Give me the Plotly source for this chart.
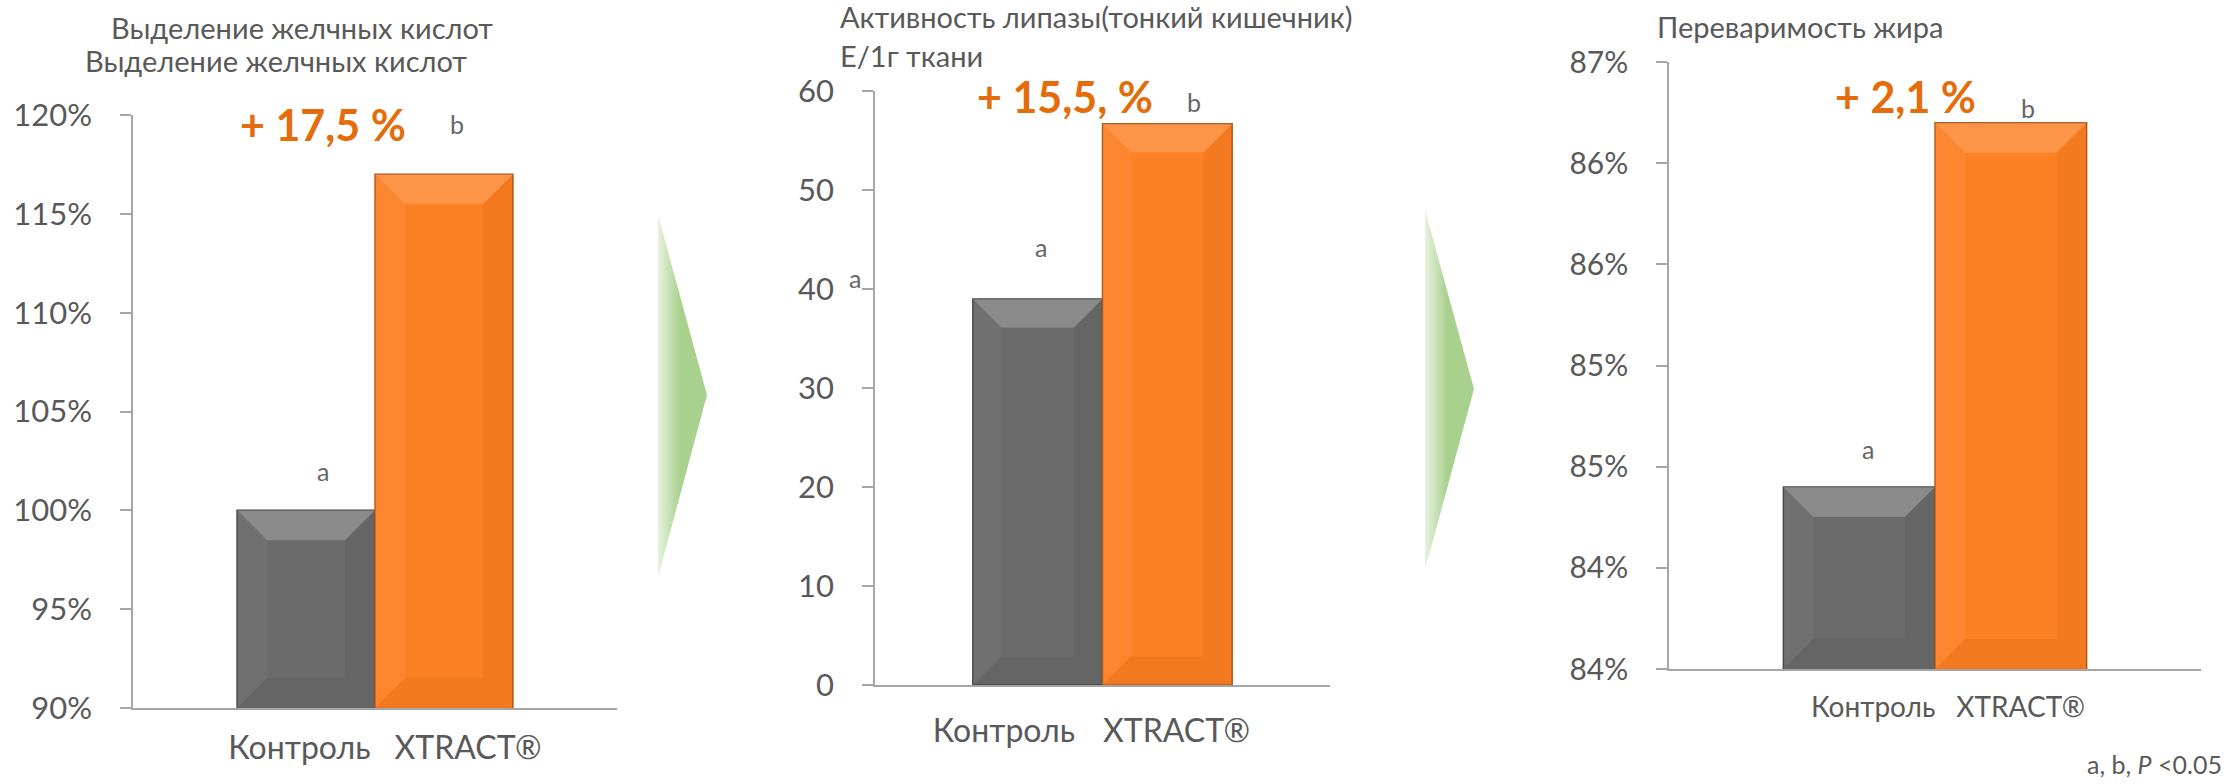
import plotly.graph_objects as go

# ---------------- data ----------------
categories = ["Контроль", "XTRACT®"]
bile_acids = [100, 117]          # % , Выделение желчных кислот
lipase = [39, 56.7]              # Е/1г ткани
fat_digest = [84.9, 86.7]        # %
diff_labels = ["+ 17,5 %", "+ 15,5, %", "+ 2,1 %"]
sig_letters = ["a", "b"]

bile_ticks = [90, 95, 100, 105, 110, 115, 120]
bile_ticktext = ["90%", "95%", "100%", "105%", "110%", "115%", "120%"]
lipase_ticks = [0, 10, 20, 30, 40, 50, 60]
fat_ticks = [84.0, 84.5, 85.0, 85.5, 86.0, 86.5, 87.0]
fat_ticktext = ["84%", "84%", "85%", "85%", "86%", "86%", "87%"]

titles1 = ["Выделение желчных кислот", "Выделение желчных кислот"]
titles2 = ["Активность липазы(тонкий кишечник)", "Е/1г ткани"]
titles3 = ["Переваримость жира"]
footnote = "a, b, <i>P</i> <0.05"

# ---------------- style ----------------
W, H = 2231, 784
FONT = "Lato, 'Noto Sans', sans-serif"
GREY_TXT = "#595959"
AXIS_COL = "#A6A6A6"
BAR_COLORS = ["#6B6B6B", "#FC8024"]
BAR_LINES = ["#474747", "#B4591B"]
ORANGE_TXT = "#E46C0A"
BARGAP = 0.43

def px(x):
    return x / W

def py(y):
    return 1 - y / H

fig = go.Figure()

panels = [
    dict(vals=bile_acids, xa="x", ya="y", sep="\u2003",
         xdom=[px(133), px(617)], ydom=[py(708), py(115)],
         yrange=[90, 120], tickvals=bile_ticks, ticktext=bile_ticktext,
         yfont=31, xfont=32, xstand=11, xshift=10),
    dict(vals=lipase, xa="x2", ya="y2", sep="\u2003\u2009",
         xdom=[px(875), px(1330)], ydom=[py(685), py(91)],
         yrange=[0, 60], tickvals=lipase_ticks, ticktext=[str(t) for t in lipase_ticks],
         yfont=31, xfont=32, xstand=17, xshift=-11),
    dict(vals=fat_digest, xa="x3", ya="y3", sep="\u2002\u2005",
         xdom=[px(1669), px(2201)], ydom=[py(669), py(62)],
         yrange=[84, 87], tickvals=fat_ticks, ticktext=fat_ticktext,
         yfont=30, xfont=28, xstand=13, xshift=13),
]

# decorative green chevron arrows (paper-fraction geometry on a hidden overlay axis)
arrows = [
    [(658, 215), (707, 395), (658, 577)],
    [(1425, 210), (1474, 389), (1425, 570)],
]
for arr in arrows:
    xs = [px(a[0]) for a in arr] + [px(arr[0][0])]
    ys = [py(a[1]) for a in arr] + [py(arr[0][1])]
    fig.add_trace(go.Scatter(
        x=xs, y=ys, mode="lines", fill="toself", line=dict(width=0, color="rgba(0,0,0,0)"),
        fillgradient=dict(type="horizontal",
                          colorscale=[[0, "#E6F2DE"], [0.45, "#A9D18E"], [1, "#A9D18E"]]),
        xaxis="x4", yaxis="y4", showlegend=False, hoverinfo="skip",
    ))

for p in panels:
    label = p["sep"].join(categories)
    p["label"] = label
    for j, cat in enumerate(categories):
        fig.add_trace(go.Bar(
            x=[label], y=[p["vals"][j]], name=cat, offsetgroup=str(j),
            marker=dict(color=BAR_COLORS[j], line=dict(color=BAR_LINES[j], width=1.5)),
            xaxis=p["xa"], yaxis=p["ya"], showlegend=False, hoverinfo="y",
        ))

# bevel effect on bars: pixel-sized shapes anchored to each bar's own edges
BEVEL = [
    dict(top="rgba(255,255,255,0.22)", bot="rgba(0,0,0,0.05)", left="rgba(255,255,255,0.04)", right="rgba(0,0,0,0.05)"),
    dict(top="rgba(255,255,255,0.17)", bot="rgba(150,50,0,0.09)", left="rgba(255,255,255,0.05)", right="rgba(120,40,0,0.06)"),
]
shapes = []
bar_frac = (1 - BARGAP) / 2
for i, p in enumerate(panels):
    sfx = "" if i == 0 else str(i + 1)
    dom_w = (p["xdom"][1] - p["xdom"][0]) * W
    dom_h = (p["ydom"][1] - p["ydom"][0]) * H
    w = dom_w * bar_frac
    b = min(30, w * 0.22)
    rmin, rmax = p["yrange"]
    for j, v in enumerate(p["vals"]):
        xl = -bar_frac + j * bar_frac
        h = (v - rmin) / (rmax - rmin) * dom_h
        c = BEVEL[j]
        common = dict(type="path", xref="x" + sfx, yref="y" + sfx, xsizemode="pixel", ysizemode="pixel",
                      xanchor=xl, line=dict(width=0), layer="above")
        shapes.append(dict(common, yanchor=v, fillcolor=c["top"],
                           path=f"M0,0 L{w:.1f},0 L{w - b:.1f},{-b:.1f} L{b:.1f},{-b:.1f} Z"))
        shapes.append(dict(common, yanchor=rmin, fillcolor=c["bot"],
                           path=f"M0,0 L{w:.1f},0 L{w - b:.1f},{b:.1f} L{b:.1f},{b:.1f} Z"))
        shapes.append(dict(common, yanchor=v, fillcolor=c["left"],
                           path=f"M0,0 L{b:.1f},{-b:.1f} L{b:.1f},{-(h - b):.1f} L0,{-h:.1f} Z"))
        shapes.append(dict(common, yanchor=v, fillcolor=c["right"],
                           path=f"M{w:.1f},0 L{w - b:.1f},{-b:.1f} L{w - b:.1f},{-(h - b):.1f} L{w:.1f},{-h:.1f} Z"))

layout_axes = {}
for i, p in enumerate(panels):
    sfx = "" if i == 0 else str(i + 1)
    layout_axes["xaxis" + sfx] = dict(
        domain=p["xdom"], anchor="y" + sfx, type="category", range=[-0.5, 0.5],
        showline=True, linecolor=AXIS_COL, linewidth=1.5, ticks="", automargin=False,
        showgrid=False, zeroline=False, ticklabelstandoff=p["xstand"], ticklabelshift=p["xshift"],
        tickfont=dict(family=FONT, size=p["xfont"], color=GREY_TXT), fixedrange=True,
    )
    layout_axes["yaxis" + sfx] = dict(
        domain=p["ydom"], anchor="x" + sfx, range=p["yrange"], automargin=False,
        tickvals=p["tickvals"], ticktext=p["ticktext"],
        showline=True, linecolor=AXIS_COL, linewidth=1.5,
        ticks="outside", ticklen=11, tickcolor=AXIS_COL, tickwidth=1.5,
        ticklabelstandoff=22, showgrid=False, zeroline=False,
        tickfont=dict(family=FONT, size=p["yfont"], color=GREY_TXT), fixedrange=True,
    )
layout_axes["xaxis4"] = dict(domain=[0, 1], range=[0, 1], visible=False, anchor="y4",
                             fixedrange=True, automargin=False)
layout_axes["yaxis4"] = dict(domain=[0, 1], range=[0, 1], visible=False, anchor="x4",
                             fixedrange=True, automargin=False)

ann = []
def txt(text, x, y, size, color=GREY_TXT, xanchor="center", bold=False, **kw):
    d = dict(text=f"<b>{text}</b>" if bold else text, x=x, y=y, xanchor=xanchor, yanchor="middle",
             showarrow=False, font=dict(family=FONT, size=size, color=color))
    d.setdefault("xref", "paper")
    d.setdefault("yref", "paper")
    d.update(kw)
    ann.append(d)

# titles
txt(titles1[0], px(302), py(28), 29)
txt(titles1[1], px(276), py(60), 29)
txt(titles2[0], px(838), py(17), 29, xanchor="left")
txt(titles2[1], px(838), py(55), 29, xanchor="left")
txt(titles3[0], px(1655), py(27), 29, xanchor="left")

# orange difference labels
txt(diff_labels[0], px(323), py(125), 43, color=ORANGE_TXT, bold=True)
txt(diff_labels[1], px(1065), py(97), 43, color=ORANGE_TXT, bold=True)
txt(diff_labels[2], px(1905), py(97), 43, color=ORANGE_TXT, bold=True)

# significance letters anchored to bar tops
letter_pos = [
    [(0.393, 39), (0.669, 50)],
    [(0.365, 52), (0.701, 22)],
    [(0.374, 38), (0.675, 15)],
]
for i, p in enumerate(panels):
    sfx = "" if i == 0 else str(i + 1)
    for j in range(2):
        fx, shift = letter_pos[i][j]
        txt(sig_letters[j], fx, p["vals"][j], 25, color="#666666",
            xref=f"x{sfx} domain", yref=f"y{sfx}", yshift=shift)

# stray "a" beside the 40 tick
txt(sig_letters[0], px(855), py(278), 25, color="#666666")

# footnote
txt(footnote, px(2224), py(764), 25, xanchor="right")

fig.update_layout(
    width=W, height=H, margin=dict(l=0, r=0, t=0, b=0, autoexpand=False),
    paper_bgcolor="white", plot_bgcolor="rgba(0,0,0,0)",
    barmode="group", bargap=BARGAP, bargroupgap=0,
    annotations=ann, shapes=shapes, showlegend=False,
    font=dict(family=FONT, color=GREY_TXT),
    **layout_axes,
)

fig.write_html("out.html", config={"displayModeBar": False},
               post_script="document.body.style.margin='0px';")
